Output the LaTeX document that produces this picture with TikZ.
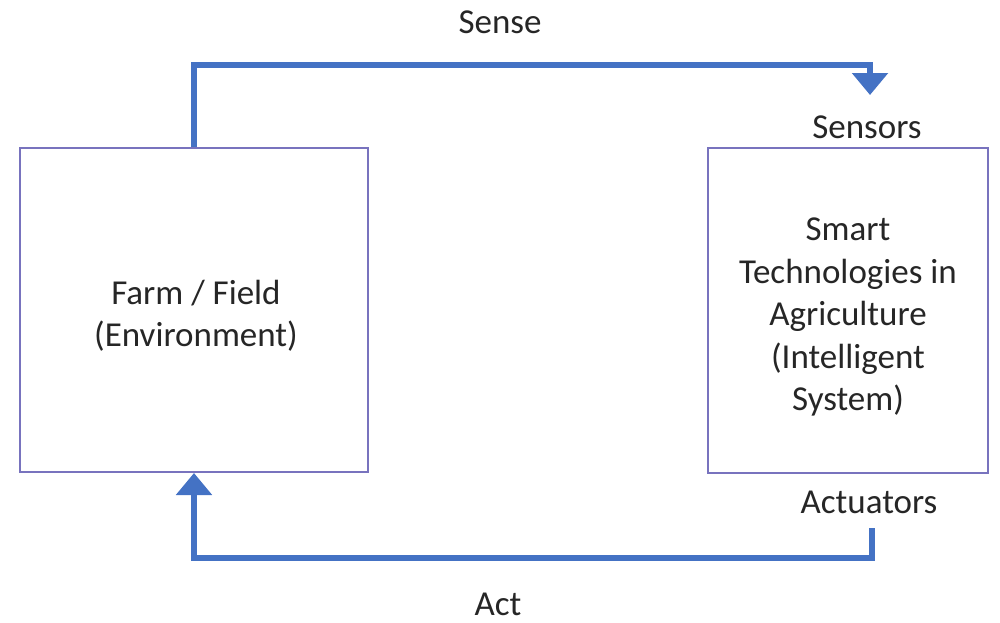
\documentclass[tikz,border=0pt]{standalone}
\usepackage{fontspec}
\setmainfont{Carlito}
\usetikzlibrary{arrows.meta}
\definecolor{flowblue}{RGB}{68,114,196}
\definecolor{boxline}{RGB}{120,115,190}
\definecolor{txt}{RGB}{38,38,38}
\tikzset{
  box/.style={draw=boxline,line width=2pt,rectangle,inner sep=0pt},
  boxtext/.style={text=txt,align=center,inner sep=0pt,font=\fontsize{35}{42.5}\selectfont},
  flow/.style={draw=flowblue,line width=6pt,-{Triangle[width=35pt,length=22pt]}},
  lbl/.style={text=txt,font=\fontsize{35}{42}\selectfont,inner sep=0pt}
}
\begin{document}
\begin{tikzpicture}[x=1pt,y=-1pt]
\useasboundingbox (0,0) rectangle (1000,622);
\node[box,minimum width=348pt,minimum height=324pt] (farm) at (194,310) {};
\node[box,minimum width=280pt,minimum height=325pt] (smart) at (848,310.5) {};
\node[boxtext] (farmtext) at (196,316) {Farm / Field\\(Environment)};
\node[boxtext] (smarttext) at (848,317) {Smart\\Technologies in\\Agriculture\\(Intelligent\\System)};
\node[lbl] (sense) at (500,22) {Sense};
\node[lbl] (sensors) at (867,127) {Sensors};
\node[lbl] (actuators) at (869,502) {Actuators};
\node[lbl] (act) at (498,604) {Act};
\coordinate (stip) at (870,95);
\coordinate (astart) at (872,528);
\draw[flow] (farm.north) -- ++(0,-82) -| (stip);
\draw[flow] (astart) -- ++(0,30) -| (farm.south);
\end{tikzpicture}
\end{document}
